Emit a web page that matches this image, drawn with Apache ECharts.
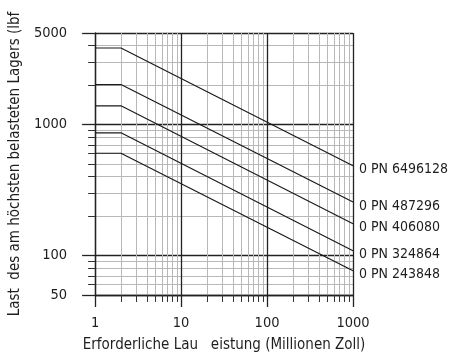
<!DOCTYPE html>
<html><head><meta charset="utf-8">
<script src="https://cdn.jsdelivr.net/npm/echarts@6/dist/echarts.min.js"></script>
<style>html,body{margin:0;padding:0;background:#fff}#c{width:451px;height:358px}</style>
</head><body><div id="c"></div>
<script>
// Life (million inches) break points
const lifePoints = [1, 2, 1000];
// Load (lbf) of each curve at those life points
const seriesNames = ['0 PN 6496128', '0 PN 487296', '0 PN 406080', '0 PN 324864', '0 PN 243848'];
const load6496128 = [3840, 3840, 485];
const load487296 = [2020, 2020, 256];
const load406080 = [1390, 1390, 175];
const load324864 = [865, 865, 109];
const load243848 = [604, 604, 76.5];
const seriesLoads = [load6496128, load487296, load406080, load324864, load243848];
// Tick labels
const xMajorTicks = [1, 10, 100, 1000];
const xMinorTicks = [2,3,4,5,6,7,8,9,20,30,40,50,60,70,80,90,200,300,400,500,600,700,800,900];
const yMajorTicks = [50, 100, 1000, 5000];
const yMinorTicks = [60,70,80,90,200,300,400,500,600,700,800,900,2000,3000,4000];
const xTitle = 'Erforderliche Lau   eistung (Millionen Zoll)';
const yTitle = 'Last  des am höchsten belasteten Lagers (lbf';

const FONT = "'Liberation Sans Narrow', 'DejaVu Sans Condensed', 'Arial Narrow', sans-serif";
const TXT = '#1e1e1e';
const plain = v => String(Math.round(v));
const chart = echarts.init(document.getElementById('c'));
chart.setOption({
  animation: false,
  textStyle: { fontFamily: FONT },
  grid: { left: 88, right: 98, top: 33, bottom: 60, containLabel: false },
  xAxis: [
    { type: 'log', logBase: 10, min: 1, max: 1000, position: 'bottom',
      axisLine: { show: false },
      axisTick: { show: true, length: 7, customValues: xMinorTicks, lineStyle: { color: '#333', width: 1 } },
      axisLabel: { show: false },
      minorTick: { show: false },
      splitLine: { show: true, lineStyle: { color: '#b8b8b8', width: 1 } } },
    { type: 'log', logBase: 10, min: 1, max: 1000, position: 'bottom',
      axisLine: { show: true, lineStyle: { color: '#222', width: 1.3 } },
      axisTick: { show: true, length: 12, customValues: xMajorTicks, lineStyle: { color: '#222', width: 1.3 } },
      axisLabel: { show: true, customValues: xMajorTicks, formatter: plain, margin: 21, fontSize: 14.5, color: TXT, fontFamily: FONT },
      name: xTitle, nameLocation: 'middle', nameGap: 43,
      nameTextStyle: { fontSize: 15, color: TXT, fontFamily: FONT },
      splitLine: { show: true, lineStyle: { color: '#222', width: 1.3 } } }
  ],
  yAxis: [
    { type: 'log', logBase: 10, min: 50, max: 5000, position: 'left',
      axisLine: { show: false },
      axisTick: { show: true, length: 7, customValues: yMinorTicks, lineStyle: { color: '#333', width: 1 } },
      axisLabel: { show: false },
      splitLine: { show: true, lineStyle: { color: '#b8b8b8', width: 1 } } },
    { type: 'log', logBase: 10, min: 50, max: 5000, position: 'left',
      axisLine: { show: true, lineStyle: { color: '#222', width: 1.3 } },
      axisTick: { show: true, length: 13, customValues: yMajorTicks, lineStyle: { color: '#222', width: 1.3 } },
      axisLabel: { show: true, customValues: yMajorTicks, formatter: plain, margin: 28, fontSize: 14.5, color: TXT, fontFamily: FONT },
      name: yTitle, nameLocation: 'middle', nameGap: 61, nameRotate: 90,
      nameTextStyle: { fontSize: 15, color: TXT, fontFamily: FONT },
      splitLine: { show: true, lineStyle: { color: '#222', width: 1.3 } } }
  ],
  series: seriesNames.map((n, i) => ({
    type: 'line', name: n, xAxisIndex: 1, yAxisIndex: 1,
    data: lifePoints.map((x, j) => [x, seriesLoads[i][j]]),
    showSymbol: false, symbol: 'none',
    lineStyle: { color: '#1a1a1a', width: 1.2 },
    endLabel: { show: true, formatter: n, distance: 6, offset: [0, 4], fontSize: 14, color: TXT, fontFamily: FONT },
    z: 5
  }))
});
</script></body></html>
